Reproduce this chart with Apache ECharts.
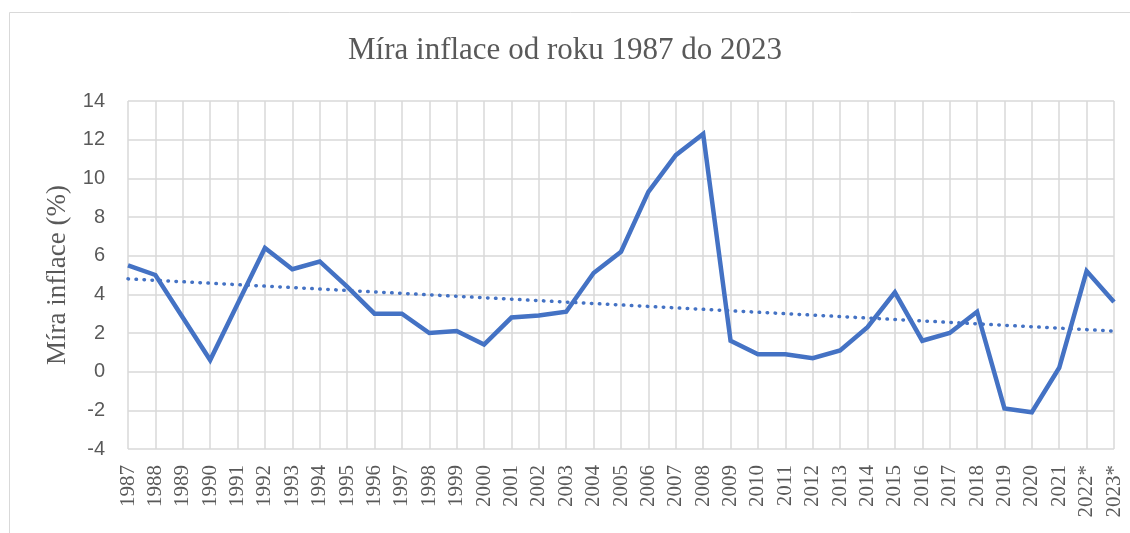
<!DOCTYPE html>
<html>
<head>
<meta charset="utf-8">
<script src="https://cdn.jsdelivr.net/npm/echarts@6/dist/echarts.min.js"></script>
<style>
  html, body { margin: 0; padding: 0; background: #fff; }
  #chart { width: 1130px; height: 533px; }
</style>
</head>
<body>
<div id="chart"></div>
<script>
// categories (years, * = estimate)
const years = ['1987','1988','1989','1990','1991','1992','1993','1994','1995','1996',
  '1997','1998','1999','2000','2001','2002','2003','2004','2005','2006','2007','2008',
  '2009','2010','2011','2012','2013','2014','2015','2016','2017','2018','2019','2020',
  '2021','2022*','2023*'];

// inflation rate in %
const inflation = [5.5, 5.0, 2.8, 0.6, 3.5, 6.4, 5.3, 5.7, 4.4, 3.0,
  3.0, 2.0, 2.1, 1.4, 2.8, 2.9, 3.1, 5.1, 6.2, 9.3, 11.2, 12.3,
  1.6, 0.9, 0.9, 0.7, 1.1, 2.3, 4.1, 1.6, 2.0, 3.1, -1.9, -2.1,
  0.2, 5.2, 3.6];

// linear trend line, end values
const trendStart = 4.8;
const trendEnd = 2.1;

const yTicks = { min: -4, max: 14, step: 2 };

// trend series: only the two ends, the gap is joined
const trend = years.map((y, i) => i === 0 ? trendStart : (i === years.length - 1 ? trendEnd : null));

const chart = echarts.init(document.getElementById('chart'));

const option = {
  animation: false,
  backgroundColor: '#fff',
  graphic: [{
    type: 'rect',
    shape: { x: 9.5, y: 12.5, width: 1130, height: 530 },
    style: { fill: 'none', stroke: '#d9d9d9', lineWidth: 1 },
    silent: true
  }],
  title: {
    text: 'Míra inflace od roku 1987 do 2023',
    left: 'center',
    top: 30,
    textStyle: {
      fontFamily: 'Liberation Serif',
      fontWeight: 'normal',
      fontSize: 31,
      color: '#595959'
    }
  },
  grid: { left: 128, right: 16, top: 101, bottom: 84 },
  xAxis: {
    type: 'category',
    data: years,
    boundaryGap: false,
    axisLine: { show: false },
    axisTick: { show: false },
    splitLine: { show: true, lineStyle: { color: '#d9d9d9', width: 1.5 } },
    axisLabel: {
      rotate: 90,
      interval: 0,
      margin: 16,
      fontFamily: 'Liberation Serif',
      fontSize: 21,
      color: '#595959'
    }
  },
  yAxis: {
    type: 'value',
    min: yTicks.min,
    max: yTicks.max,
    interval: yTicks.step,
    name: 'Míra inflace (%)',
    nameLocation: 'middle',
    nameRotate: 90,
    nameGap: 56,
    nameTextStyle: {
      fontFamily: 'Liberation Serif',
      fontSize: 27,
      color: '#595959'
    },
    axisLine: { show: false },
    axisTick: { show: false },
    splitLine: { lineStyle: { color: '#d9d9d9', width: 1.5 } },
    axisLabel: {
      margin: 23,
      fontFamily: 'Liberation Sans',
      fontSize: 20,
      color: '#595959'
    }
  },
  series: [
    {
      name: 'Míra inflace',
      type: 'line',
      data: inflation,
      symbol: 'none',
      lineStyle: { color: '#4472c4', width: 4.5, join: 'miter' },
      z: 3
    },
    {
      name: 'Trend',
      type: 'line',
      data: trend,
      connectNulls: true,
      symbol: 'none',
      lineStyle: { color: '#4472c4', width: 3.5, type: [0.5, 7.5], cap: 'round' },
      z: 2
    }
  ]
};

chart.setOption(option);
</script>
</body>
</html>
